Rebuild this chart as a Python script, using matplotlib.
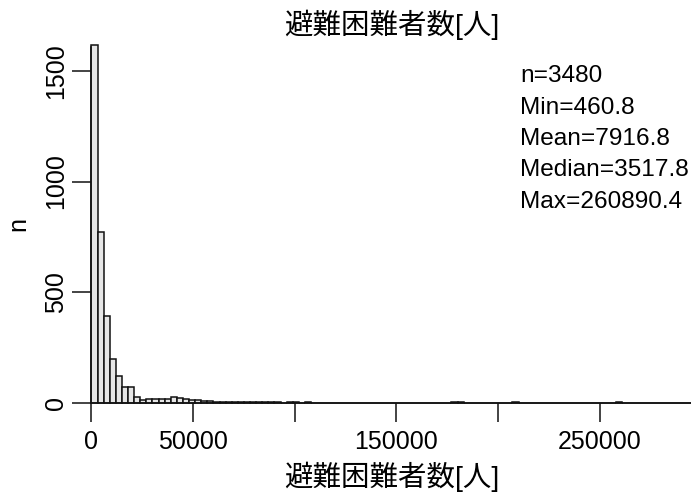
import matplotlib.pyplot as plt
import numpy as np

plt.rcParams['font.family'] = ['Liberation Sans', 'Noto Sans CJK JP', 'DejaVu Sans']

# histogram counts per 3000-wide bin, 0 .. 300000
bin_width = 3000
counts = [1616, 772, 392, 196, 122, 68, 72, 26, 12, 18,
          18, 14, 18, 24, 21, 14, 12, 12, 6, 8,
          4, 4, 1, 4, 1, 1, 1, 3, 3, 3,
          1, 0, 4, 1, 0, 2, 0, 0, 0, 0,
          0, 0, 0, 0, 0, 0, 0, 0, 0, 0,
          0, 0, 0, 0, 0, 0, 0, 0, 0, 2,
          2, 0, 0, 0, 0, 0, 0, 0, 0, 1,
          0, 0, 0, 0, 0, 0, 0, 0, 0, 0,
          0, 0, 0, 0, 0, 0, 1, 0, 0, 0,
          0, 0, 0, 0, 0, 0, 0, 0, 0, 0]

x_ticks = [0, 50000, 100000, 150000, 200000, 250000]
x_ticklabels = ['0', '50000', '', '150000', '', '250000']
y_ticks = [0, 500, 1000, 1500]

stats = ['n=3480', 'Min=460.8', 'Mean=7916.8', 'Median=3517.8', 'Max=260890.4']
title = '避難困難者数[人]'

W, H = 691, 495
fig = plt.figure(figsize=(W / 100, H / 100), dpi=100)
ax = fig.add_axes([91.4 / W, 92.5 / H, 599.6 / W, 355.8 / H])

edges = np.arange(len(counts)) * bin_width
ax.bar(edges, counts, width=bin_width, align='edge', color='#e6e6e6',
       edgecolor='#111111', linewidth=1.1, clip_on=False)

ax.set_xlim(0, 294800)
ax.set_ylim(0, 1610)
for s in ['top', 'right']:
    ax.spines[s].set_visible(False)
for s in ['left', 'bottom']:
    ax.spines[s].set_linewidth(1.1)
    ax.spines[s].set_color('#111111')

ax.set_xticks(x_ticks)
ax.set_xticklabels(x_ticklabels)
ax.set_yticks(y_ticks)
ax.set_yticklabels([str(v) for v in y_ticks], rotation=90, va='center')
ax.tick_params(axis='both', length=14, width=1.1, color='#111111', labelsize=18)
ax.tick_params(axis='x', pad=6)
ax.tick_params(axis='y', pad=3)

fig.text(392 / W, 1 - 25 / H, title, ha='center', va='center', fontsize=20.5)
fig.text(392 / W, 1 - 477 / H, title, ha='center', va='center', fontsize=20.5)
fig.text(18 / W, 1 - 224 / H, 'n', ha='center', va='center', rotation=90, fontsize=18)

for i, line in enumerate(stats):
    fig.text(520 / W, 1 - (76 + 31.5 * i) / H, line, ha='left', va='center', fontsize=17.6)

fig.savefig('out.png', dpi=100)
